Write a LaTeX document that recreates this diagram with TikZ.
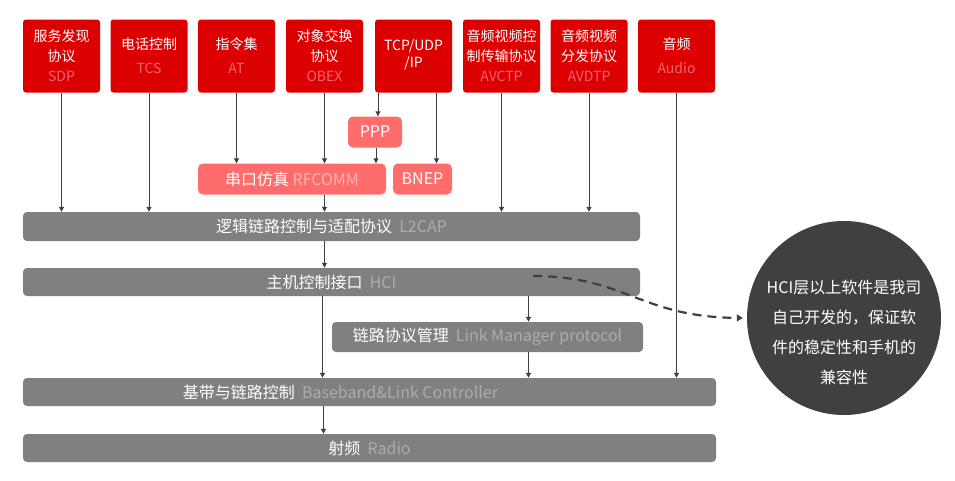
\documentclass[tikz,border=0pt]{standalone}
\usepackage{fontspec}
\setmainfont{Noto Sans CJK SC}
\usetikzlibrary{arrows.meta}
\definecolor{topred}{RGB}{221,0,0}
\definecolor{subred}{RGB}{240,100,112}
\definecolor{salmon}{RGB}{255,108,108}
\definecolor{subsalmon}{RGB}{255,178,178}
\definecolor{barfill}{RGB}{128,128,128}
\definecolor{subgray}{RGB}{172,172,172}
\definecolor{notefill}{RGB}{64,64,64}
\definecolor{linegray}{RGB}{64,64,64}
\begin{document}
\begin{tikzpicture}[x=1pt, y=-1pt,
            proto/.style={fill=topred, rounded corners=3pt, minimum width=77pt, minimum height=73pt, inner sep=0pt, text=white, align=center, font=\fontsize{14pt}{20pt}\selectfont},
            midbox/.style={fill=salmon, rounded corners=5pt, minimum height=31pt, inner sep=0pt, text=white, font=\fontsize{16pt}{20pt}\selectfont},
            layer/.style={fill=barfill, rounded corners=4pt, minimum height=28pt, inner sep=0pt, text=white, font=\fontsize{16pt}{20pt}\selectfont},
            flow/.style={draw=linegray, line width=1pt, -{Triangle[length=5pt,width=5pt]}},
            notearrow/.style={draw=linegray, line width=2.2pt, dash pattern=on 9pt off 6pt, -{Triangle[length=6pt,width=7pt]}}]
            \useasboundingbox (0,0) rectangle (955,480);

            \node[proto] (sdp)   at (61.5,56)  {服务发现\\协议\\{\color{subred}SDP}};
            \node[proto] (tcs)   at (149,56)   {电话控制\\[4pt]{\color{subred}TCS}};
            \node[proto] (at)    at (236.5,56) {指令集\\[4pt]{\color{subred}AT}};
            \node[proto] (obex)  at (324.5,56) {对象交换\\协议\\{\color{subred}OBEX}};
            \node[proto] (tcpip) at (413.5,56) {TCP/UDP\\[-3pt]/IP\\[-14pt]};
            \node[proto] (avctp) at (501.5,56) {音频视频控\\制传输协议\\{\color{subred}AVCTP}};
            \node[proto] (avdtp) at (589,56)   {音频视频\\分发协议\\{\color{subred}AVDTP}};
            \node[proto] (audio) at (676.5,56) {音频\\[4pt]{\color{subred}Audio}};

            \node[midbox, minimum width=54pt]  (ppp)    at (375,132)   {PPP};
            \node[midbox, minimum width=188pt] (rfcomm) at (292,179)   {串口仿真 {\color{subsalmon}RFCOMM}};
            \node[midbox, minimum width=59pt]  (bnep)   at (422.5,179) {BNEP};

            \node[layer, minimum width=617pt, minimum height=29pt] (l2cap) at (331.5,226.5) {逻辑链路控制与适配协议\ \ {\color{subgray}L2CAP}};
            \node[layer, minimum width=617pt] (hci)      at (331.5,282) {主机控制接口\ \ {\color{subgray}HCI}};
            \node[layer, minimum width=311pt, minimum height=30pt] (lmp) at (487.5,337) {链路协议管理\ \ {\color{subgray}Link Manager protocol}};
            \node[layer, minimum width=693pt] (baseband) at (369.5,392) {基带与链路控制\ \ {\color{subgray}Baseband\&Link Controller}\hspace*{58pt}};
            \node[layer, minimum width=693pt] (radio)    at (369.5,448) {射频\ \ {\color{subgray}Radio}};

            \node[circle, fill=notefill, minimum size=194pt, inner sep=-40pt, text=white, align=center, font=\fontsize{16pt}{30pt}\selectfont] (note) at (844,318)
                {\mbox{}\\[12pt]HCI层以上软件是我司\\自己开发的，保证软\\件的稳定性和手机的\\兼容性};

            \draw[flow] (sdp.south) -- (sdp.south |- l2cap.north);
            \draw[flow] (tcs.south) -- (tcs.south |- l2cap.north);
            \draw[flow] (at.south) -- (at.south |- rfcomm.north);
            \draw[flow] (obex.south) -- (obex.south |- rfcomm.north);
            \draw[flow] ([xshift=3pt]ppp.north |- tcpip.south) -- ([xshift=3pt]ppp.north);
            \draw[flow] ([xshift=1pt]ppp.south) -- ([xshift=1pt]ppp.south |- rfcomm.north);
            \draw[flow] ([xshift=14pt]bnep.north |- tcpip.south) -- ([xshift=14pt]bnep.north);
            \draw[flow] (avctp.south) -- (avctp.south |- l2cap.north);
            \draw[flow] (avdtp.south) -- (avdtp.south |- l2cap.north);
            \draw[flow] (audio.south) -- (audio.south |- baseband.north);
            \draw[flow] (obex.south |- rfcomm.south) -- (obex.south |- l2cap.north);
            \draw[flow] (obex.south |- l2cap.south) -- (obex.south |- hci.north);
            \draw[flow] ([xshift=-2pt]obex.south |- hci.south) -- ([xshift=-2pt]obex.south |- baseband.north);
            \draw[flow] ([xshift=41pt]lmp.north |- hci.south) -- ([xshift=41pt]lmp.north);
            \draw[flow] ([xshift=41pt]lmp.south) -- ([xshift=41pt]lmp.south |- baseband.north);
            \draw[flow] ([xshift=-1pt]obex.south |- baseband.south) -- ([xshift=-1pt]obex.south |- radio.north);

            \coordinate (hcinote) at (533,276);
            \draw[notearrow, shorten >=4pt] (hcinote) .. controls (625,276) and (640,317) .. (note.west);
        \end{tikzpicture}
\end{document}
